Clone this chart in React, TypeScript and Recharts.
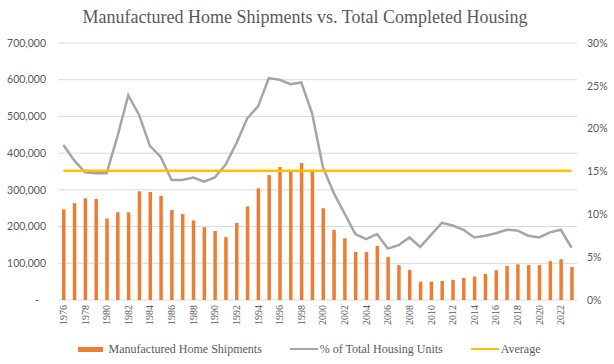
import { ComposedChart, Bar, Line, XAxis, YAxis, CartesianGrid } from "recharts"

const years = [
  "1976", "1977", "1978", "1979", "1980", "1981", "1982", "1983", "1984", "1985",
  "1986", "1987", "1988", "1989", "1990", "1991", "1992", "1993", "1994", "1995",
  "1996", "1997", "1998", "1999", "2000", "2001", "2002", "2003", "2004", "2005",
  "2006", "2007", "2008", "2009", "2010", "2011", "2012", "2013", "2014", "2015",
  "2016", "2017", "2018", "2019", "2020", "2021", "2022", "2023",
]

// Manufactured home shipments (units)
const shipments = [
  247000, 264000, 277000, 275000, 222000, 239000, 239000, 296000, 294000, 284000,
  245000, 234000, 217000, 198000, 188000, 171000, 210000, 255000, 304000, 340000,
  362000, 351000, 373000, 351000, 250000, 191000, 168000, 131000, 131000, 147000,
  117000, 95000, 82000, 50000, 50000, 52000, 55000, 60000, 64000, 71000,
  81000, 93000, 97000, 95000, 95000, 106000, 111000, 90000,
]

// share of total completed housing units
const pctOfTotal = [
  0.181, 0.163, 0.149, 0.148, 0.148, 0.191, 0.239, 0.216, 0.18, 0.167,
  0.14, 0.14, 0.143, 0.138, 0.143, 0.158, 0.183, 0.212, 0.226, 0.259,
  0.257, 0.252, 0.254, 0.218, 0.155, 0.125, 0.101, 0.077, 0.071, 0.077,
  0.06, 0.064, 0.073, 0.062, 0.076, 0.09, 0.087, 0.082, 0.073, 0.075,
  0.078, 0.082, 0.081, 0.075, 0.073, 0.079, 0.082, 0.061,
]

const averagePct = 0.151

const leftTicks = [0, 100000, 200000, 300000, 400000, 500000, 600000, 700000]
const rightTicks = [0, 0.05, 0.1, 0.15, 0.2, 0.25, 0.3]
const edgeTicks = Array.from({ length: 25 }, (_, i) => i * 2)

const data = years.map((year, i) => ({
  year,
  shipments: shipments[i],
  pct: pctOfTotal[i],
  avg: averagePct,
}))

const COLORS = {
  bar: "#ED7D31",
  line: "#A5A5A5",
  avg: "#FFC000",
  text: "#595959",
  grid: "#D9D9D9",
  axis: "#BFBFBF",
}

const SERIF = "'Liberation Serif', 'Times New Roman', serif"
const SANS = "Lato, 'Liberation Sans', sans-serif"

function LeftTick({ x, y, payload }: any) {
  const v = payload.value as number
  if (v === 0) {
    return (
      <text x={x - 7} y={y} dy="0.35em" textAnchor="end" fill={COLORS.text} fontSize={10.5} fontFamily={SANS}>
        -
      </text>
    )
  }
  return (
    <text x={x} y={y} dy="0.35em" textAnchor="end" fill={COLORS.text} fontSize={10.5} fontFamily={SANS}>
      {v.toLocaleString("en-US")}
    </text>
  )
}

function RightTick({ x, y, payload }: any) {
  return (
    <text x={x} y={y} dy="0.35em" textAnchor="start" fill={COLORS.text} fontSize={10.5} fontFamily={SANS}>
      {Math.round(payload.value * 100)}%
    </text>
  )
}

function YearTick({ x, y, payload }: any) {
  return (
    <text
      x={x}
      y={y}
      dy="0.35em"
      textAnchor="end"
      transform={`rotate(-90, ${x}, ${y})`}
      fill={COLORS.text}
      fontSize={10}
      fontFamily={SERIF}
    >
      {payload.value}
    </text>
  )
}

const legendItems = [
  { label: "Manufactured Home Shipments", color: COLORS.bar, kind: "rect" },
  { label: "% of Total Housing Units", color: COLORS.line, kind: "line" },
  { label: "Average", color: COLORS.avg, kind: "line" },
]

export default function App() {
  return (
    <div
      style={{
        position: "absolute",
        left: 0,
        top: 0,
        width: 614,
        height: 364,
        background: "#fff",
        fontFamily: SERIF,
      }}
    >
      <div
        style={{
          position: "absolute",
          top: 5,
          left: 0,
          width: 610,
          textAlign: "center",
          fontSize: 18,
          lineHeight: "24px",
          color: COLORS.text,
          fontFamily: SERIF,
        }}
      >
        Manufactured Home Shipments vs. Total Completed Housing
      </div>

      <ComposedChart
        width={614}
        height={364}
        data={data}
        margin={{ top: 43, right: 0, bottom: 24, left: 0 }}
      >
        <CartesianGrid vertical={false} stroke={COLORS.grid} yAxisId="left" />
        <XAxis
          xAxisId="edges"
          type="number"
          domain={[0, 48]}
          ticks={edgeTicks}
          height={0}
          axisLine={{ stroke: COLORS.axis }}
          tickLine={{ stroke: COLORS.axis }}
          tickSize={5}
          tick={() => <g />}
          allowDataOverflow
        />
        <XAxis
          xAxisId="cat"
          dataKey="year"
          height={40}
          interval={1}
          axisLine={false}
          tickLine={false}
          tickSize={0}
          tickMargin={5}
          tick={<YearTick />}
        />
        <YAxis
          yAxisId="left"
          width={58}
          domain={[0, 700000]}
          ticks={leftTicks}
          axisLine={false}
          tickLine={false}
          tickSize={0}
          tickMargin={12}
          tick={<LeftTick />}
        />
        <YAxis
          yAxisId="right"
          orientation="right"
          width={37}
          domain={[0, 0.3]}
          ticks={rightTicks}
          axisLine={false}
          tickLine={false}
          tickSize={0}
          tickMargin={10}
          tick={<RightTick />}
        />
        <Bar
          xAxisId="cat"
          yAxisId="left"
          dataKey="shipments"
          fill={COLORS.bar}
          barSize={3.5}
          isAnimationActive={false}
        />
        <Line
          xAxisId="cat"
          yAxisId="right"
          type="linear"
          dataKey="pct"
          stroke={COLORS.line}
          strokeWidth={2.5}
          dot={false}
          isAnimationActive={false}
        />
        <Line
          xAxisId="cat"
          yAxisId="right"
          type="linear"
          dataKey="avg"
          stroke={COLORS.avg}
          strokeWidth={2.5}
          dot={false}
          isAnimationActive={false}
        />
      </ComposedChart>

      <div
        style={{
          position: "absolute",
          top: 340,
          left: 0,
          width: 614,
          display: "flex",
          justifyContent: "center",
          alignItems: "center",
          gap: 28,
          fontSize: 12,
          lineHeight: "18px",
          color: COLORS.text,
          fontFamily: SERIF,
          paddingLeft: 4,
          boxSizing: "border-box",
        }}
      >
        {legendItems.map((item) => (
          <div key={item.label} style={{ display: "flex", alignItems: "center", fontFamily: SERIF }}>
            {item.kind === "rect" ? (
              <span
                style={{ display: "inline-block", width: 25, height: 5, background: item.color, marginRight: 6 }}
              />
            ) : (
              <span
                style={{ display: "inline-block", width: 28, height: 2.5, background: item.color, marginRight: 2 }}
              />
            )}
            <span style={{ fontFamily: SERIF }}>{item.label}</span>
          </div>
        ))}
      </div>
    </div>
  )
}
